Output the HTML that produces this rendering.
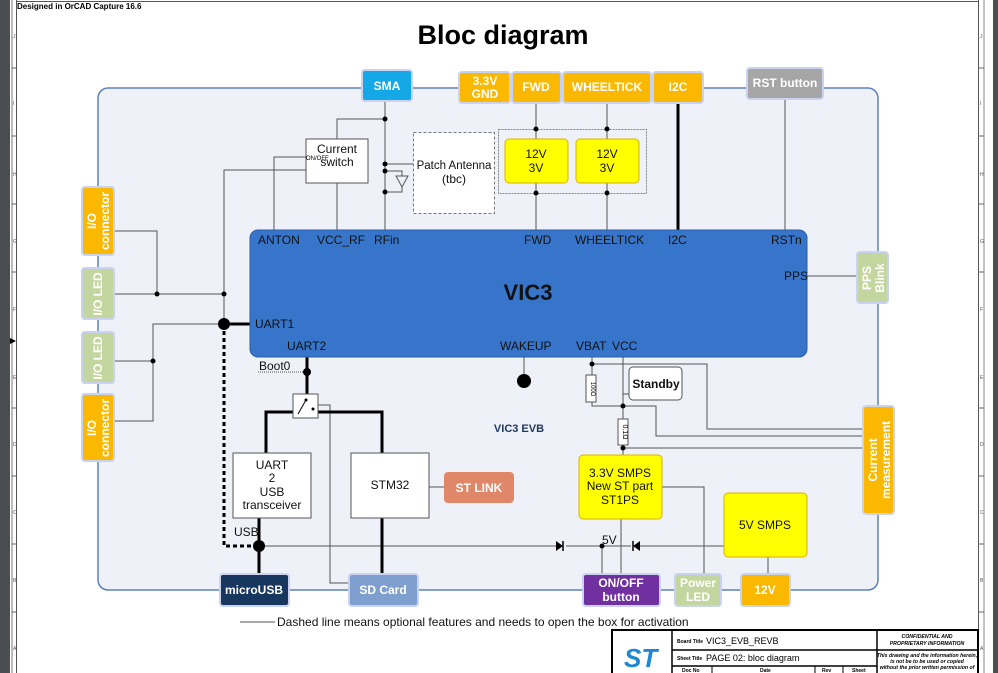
<!DOCTYPE html>
<html><head><meta charset="utf-8"><style>
html,body{margin:0;padding:0;background:#fff;}
svg{display:block;font-family:"Liberation Sans",Arial,sans-serif;}
</style></head><body>
<svg width="998" height="673" viewBox="0 0 998 673" xmlns="http://www.w3.org/2000/svg">
<rect x="0" y="0" width="10" height="673" fill="#4a4d52"/>
<rect x="993" y="0" width="5" height="673" fill="#4a4d52"/>
<line x1="12" y1="0" x2="12" y2="673" stroke="#777" stroke-width="1"/>
<line x1="16.5" y1="0" x2="16.5" y2="673" stroke="#555" stroke-width="1"/>
<line x1="978.5" y1="0" x2="978.5" y2="673" stroke="#555" stroke-width="1"/>
<line x1="984" y1="0" x2="984" y2="673" stroke="#888" stroke-width="1"/>
<line x1="16" y1="1.5" x2="978" y2="1.5" stroke="#555" stroke-width="1"/>
<text x="17" y="9" font-size="8" font-weight="bold">Designed in OrCAD Capture 16.6</text>
<g font-size="5" fill="#555">
<text x="13" y="38">J</text><text x="13" y="105">I</text><text x="13" y="176">H</text><text x="13" y="243">G</text><text x="13" y="311">F</text><text x="13" y="379">E</text><text x="13" y="446">D</text><text x="13" y="514">C</text><text x="13" y="582">B</text><text x="13" y="650">A</text>
<text x="980" y="38">J</text><text x="980" y="105">I</text><text x="980" y="176">H</text><text x="980" y="243">G</text><text x="980" y="311">F</text><text x="980" y="379">E</text><text x="980" y="446">D</text><text x="980" y="514">C</text><text x="980" y="582">B</text><text x="980" y="650">A</text>
</g>
<g stroke="#666" stroke-width="1">
<line x1="12" y1="68" x2="16" y2="68"/><line x1="12" y1="136" x2="16" y2="136"/><line x1="12" y1="204" x2="16" y2="204"/><line x1="12" y1="272" x2="16" y2="272"/><line x1="12" y1="408" x2="16" y2="408"/><line x1="12" y1="476" x2="16" y2="476"/><line x1="12" y1="544" x2="16" y2="544"/><line x1="12" y1="612" x2="16" y2="612"/>
<line x1="978" y1="68" x2="984" y2="68"/><line x1="978" y1="136" x2="984" y2="136"/><line x1="978" y1="204" x2="984" y2="204"/><line x1="978" y1="272" x2="984" y2="272"/><line x1="978" y1="408" x2="984" y2="408"/><line x1="978" y1="476" x2="984" y2="476"/><line x1="978" y1="544" x2="984" y2="544"/><line x1="978" y1="612" x2="984" y2="612"/>
</g>
<polygon points="10,338 16,341 10,344" fill="#000"/>

<text x="503" y="44" font-size="27" font-weight="bold" text-anchor="middle">Bloc diagram</text>

<rect x="98" y="88" width="780" height="502" rx="10" fill="#eef1f8" stroke="#5b82b8" stroke-width="1.5"/>

<g stroke="#555" stroke-width="1" fill="none">
<line x1="385" y1="101" x2="385" y2="230"/>
<polyline points="385,119 337,119 337,139"/>
<line x1="337" y1="183" x2="337" y2="230"/>
<polyline points="306,157 274,157 274,230"/>
<polyline points="306,170 224,170 224,324"/>
<line x1="385" y1="164" x2="413" y2="164"/>
<polyline points="385,171 402,171 402,176"/>
<polyline points="385,192 402,192 402,187"/>
<polygon points="396,176 408,176 402,187"/>
<line x1="536" y1="103" x2="536" y2="230"/>
<line x1="607" y1="103" x2="607" y2="230"/>
<line x1="785" y1="99" x2="785" y2="230"/>
<polyline points="114,231 157,231 157,294"/>
<line x1="114" y1="294" x2="224" y2="294"/>
<polyline points="224,324 153,324 153,421 114,421"/>
<line x1="114" y1="361" x2="153" y2="361"/>
<line x1="807" y1="276" x2="857" y2="276"/>
<polyline points="318,405 330,405 330,583 349,583"/>
<line x1="259" y1="546" x2="556" y2="546"/>
<line x1="566" y1="546" x2="631" y2="546"/>
<line x1="640" y1="546" x2="724" y2="546"/>
<line x1="602" y1="546" x2="602" y2="574"/>
<line x1="621" y1="519" x2="621" y2="574"/>
<polyline points="662,487 704,487 704,574"/>
<line x1="768" y1="557" x2="768" y2="574"/>
<line x1="429" y1="487" x2="444" y2="487"/>
<line x1="524" y1="357" x2="524" y2="380"/>
<polyline points="592,357 592,364 707,364 707,429 863,429"/>
<line x1="592" y1="364" x2="592" y2="375"/>
<polyline points="592,402 592,406 656,406 656,436 863,436"/>
<polyline points="623,357 623,394 629,394"/>
<line x1="623" y1="394" x2="623" y2="419"/>
<line x1="623" y1="445" x2="623" y2="455"/>
<line x1="623" y1="448" x2="863" y2="448"/>
<line x1="240" y1="622" x2="275" y2="622"/>
<line x1="258" y1="372" x2="307" y2="372" stroke-dasharray="1,1"/>
</g>
<rect x="498.5" y="129.5" width="148" height="64" fill="none" stroke="#888" stroke-width="1" stroke-dasharray="2,1"/>
<g stroke="#000" stroke-width="3" fill="none">
<line x1="678" y1="103" x2="678" y2="230"/>
<line x1="224" y1="324" x2="250" y2="324"/>
<line x1="307" y1="357" x2="307" y2="394"/>
<polyline points="266,453 266,412 293,412"/>
<polyline points="318,412 382,412 382,453"/>
<line x1="259" y1="518" x2="259" y2="574"/>
<line x1="382" y1="518" x2="382" y2="574"/>
<polyline points="224,324 224,546 259,546" stroke-dasharray="4,3"/>
</g>
<g fill="#000">
<circle cx="385" cy="119" r="2.5"/><circle cx="385" cy="164" r="2.5"/><circle cx="385" cy="171" r="2.5"/><circle cx="385" cy="192" r="2.5"/>
<circle cx="536" cy="129" r="2.5"/><circle cx="536" cy="193" r="2.5"/><circle cx="607" cy="129" r="2.5"/><circle cx="607" cy="193" r="2.5"/>
<circle cx="157" cy="294" r="2.5"/><circle cx="224" cy="294" r="2.5"/><circle cx="153" cy="361" r="2.5"/>
<circle cx="224" cy="324" r="6"/><circle cx="259" cy="546" r="6"/><circle cx="307" cy="372" r="4"/>
<circle cx="524" cy="381" r="7"/>
<circle cx="592" cy="364" r="2.5"/><circle cx="623" cy="406" r="2.5"/><circle cx="623" cy="448" r="2.5"/><circle cx="602" cy="546" r="2.5"/>
<polygon points="556,541 556,551 563,546"/><line x1="563" y1="541" x2="563" y2="551" stroke="#000" stroke-width="1.5"/>
<polygon points="640,541 640,551 633,546"/><line x1="633" y1="541" x2="633" y2="551" stroke="#000" stroke-width="1.5"/>
</g>

<rect x="250" y="230" width="557" height="127" rx="8" fill="#3675c9" stroke="#2a5ea8"/>
<g font-size="12" fill="#111">
<text x="258" y="244">ANTON</text><text x="317" y="244">VCC_RF</text><text x="374" y="244">RFin</text>
<text x="524" y="244">FWD</text><text x="575" y="244">WHEELTICK</text><text x="668" y="244">I2C</text><text x="771" y="244">RSTn</text>
<text x="784" y="280">PPS</text><text x="255" y="328">UART1</text><text x="287" y="350">UART2</text>
<text x="500" y="350">WAKEUP</text><text x="576" y="350">VBAT</text><text x="612" y="350">VCC</text>
</g>
<text x="528" y="300" font-size="22" font-weight="bold" text-anchor="middle" fill="#111">VIC3</text>

<g fill="#fff" stroke="#555" stroke-width="1">
<rect x="306" y="139" width="62" height="44"/>
<rect x="413.5" y="132.5" width="81" height="81" stroke-dasharray="3,2" stroke="#777"/>
<rect x="233" y="453" width="78" height="65"/>
<rect x="351" y="453" width="78" height="65"/>
<rect x="293" y="394" width="25" height="24"/>
<rect x="629" y="367" width="53" height="33" rx="4"/>
<rect x="586" y="375" width="10" height="27"/>
<rect x="618" y="419" width="10" height="26"/>
</g>
<polyline points="298,414 306,400" stroke="#000" fill="none"/>
<circle cx="306" cy="400" r="1.5"/><circle cx="313" cy="409" r="1.5"/>
<g font-size="12" fill="#111" text-anchor="middle">
<text x="337" y="153">Current</text><text x="337" y="166">switch</text>
<text x="454" y="169" font-size="11.5">Patch Antenna</text><text x="454" y="183">(tbc)</text>
<text x="272" y="469">UART</text><text x="272" y="482">2</text><text x="272" y="496">USB</text><text x="272" y="509">transceiver</text>
<text x="390" y="489">STM32</text>
<text x="656" y="388" font-weight="bold">Standby</text>
<text x="234" y="536" text-anchor="start">USB</text>
<text x="259" y="370" text-anchor="start">Boot0</text>
<text x="602" y="544" text-anchor="start">5V</text>
</g>
<text x="306" y="160" font-size="6">ON/OFF</text>
<text x="591" y="389" font-size="6" transform="rotate(90 591 389)" text-anchor="middle">100Ω</text>
<text x="623" y="432" font-size="7" transform="rotate(90 623 432)" text-anchor="middle">0.1Ω</text>
<text x="519" y="432" font-size="11" font-weight="bold" fill="#1f3864" text-anchor="middle">VIC3 EVB</text>

<g fill="#ffff00" stroke="#d9b200" stroke-width="1">
<rect x="505" y="139" width="63" height="44" rx="4"/>
<rect x="576" y="139" width="63" height="44" rx="4"/>
<rect x="579" y="455" width="83" height="64" rx="4"/>
<rect x="724" y="493" width="83" height="64" rx="4"/>
</g>
<g font-size="12" fill="#111" text-anchor="middle">
<text x="536" y="158">12V</text><text x="536" y="172">3V</text>
<text x="607" y="158">12V</text><text x="607" y="172">3V</text>
<text x="620" y="477">3.3V SMPS</text><text x="620" y="490">New ST part</text><text x="620" y="504">ST1PS</text>
<text x="765" y="529">5V SMPS</text>
</g>

<g stroke="#c9d3f0" stroke-width="2">
<rect x="362" y="70" width="50" height="31" rx="3" fill="#14a8e6"/>
<rect x="459" y="72" width="51" height="31" rx="3" fill="#fbb800"/>
<rect x="512" y="72" width="49" height="31" rx="3" fill="#fbb800"/>
<rect x="563" y="72" width="88" height="31" rx="3" fill="#fbb800"/>
<rect x="653" y="72" width="50" height="31" rx="3" fill="#fbb800"/>
<rect x="747" y="68" width="76" height="31" rx="3" fill="#a6a6a6"/>
<rect x="82" y="187" width="32" height="68" rx="3" fill="#fbb800"/>
<rect x="82" y="268" width="32" height="51" rx="3" fill="#c4d69f"/>
<rect x="82" y="332" width="32" height="51" rx="3" fill="#c4d69f"/>
<rect x="82" y="394" width="32" height="67" rx="3" fill="#fbb800"/>
<rect x="857" y="252" width="31" height="51" rx="3" fill="#c4d69f"/>
<rect x="863" y="406" width="31" height="108" rx="3" fill="#fbb800"/>
<rect x="220" y="574" width="69" height="32" rx="3" fill="#17375e"/>
<rect x="349" y="574" width="69" height="32" rx="3" fill="#7f9fcf"/>
<rect x="583" y="574" width="77" height="32" rx="3" fill="#7030a0"/>
<rect x="675" y="574" width="46" height="32" rx="3" fill="#c4d69f"/>
<rect x="741" y="574" width="49" height="32" rx="3" fill="#fbb800"/>
</g>
<rect x="444" y="472" width="70" height="31" rx="4" fill="#e0876a"/>
<g font-size="12" font-weight="bold" fill="#fff" text-anchor="middle">
<text x="387" y="90">SMA</text>
<text x="485" y="85">3.3V</text><text x="485" y="98">GND</text>
<text x="536" y="91">FWD</text><text x="607" y="91">WHEELTICK</text><text x="678" y="91">I2C</text>
<text x="785" y="87">RST button</text>
<text x="479" y="492">ST LINK</text>
<text x="254" y="594">microUSB</text><text x="383" y="594">SD Card</text>
<text x="621" y="587">ON/OFF</text><text x="621" y="601">button</text>
<text x="698" y="587">Power</text><text x="698" y="601">LED</text>
<text x="765" y="594">12V</text>
<text transform="translate(96 221) rotate(-90)">I/O</text><text transform="translate(109 221) rotate(-90)">connector</text>
<text transform="translate(102 294) rotate(-90)">I/O LED</text>
<text transform="translate(102 358) rotate(-90)">I/O LED</text>
<text transform="translate(96 428) rotate(-90)">I/O</text><text transform="translate(109 428) rotate(-90)">connector</text>
<text transform="translate(871 278) rotate(-90)">PPS</text><text transform="translate(884 278) rotate(-90)">Blink</text>
<text transform="translate(877 460) rotate(-90)">Current</text><text transform="translate(890 460) rotate(-90)">measurement</text>
</g>

<text x="277" y="626" font-size="12" fill="#111">Dashed line means optional features and needs to open the box for activation</text>

<g stroke="#000" fill="none">
<rect x="612" y="630" width="366" height="50" stroke-width="2"/>
<line x1="672" y1="630" x2="672" y2="673" stroke-width="1.5"/>
<line x1="877" y1="630" x2="877" y2="673" stroke-width="1.5"/>
<line x1="672" y1="650" x2="978" y2="650" stroke-width="1.5"/>
<line x1="672" y1="666" x2="877" y2="666" stroke-width="1.5"/>
<line x1="712" y1="666" x2="712" y2="673"/><line x1="815" y1="666" x2="815" y2="673"/><line x1="843" y1="666" x2="843" y2="673"/>
</g>
<text x="624" y="667" font-size="26" font-weight="bold" font-style="italic" fill="#1e88d0">ST</text>
<g font-size="5" font-weight="bold" fill="#000">
<text x="677" y="643">Board Title</text><text x="677" y="660">Sheet Title</text><text x="682" y="672">Doc No</text>
<text x="760" y="672">Date</text><text x="822" y="672">Rev</text><text x="852" y="672">Sheet</text>
</g>
<text x="706" y="644" font-size="9">VIC3_EVB_REVB</text>
<text x="706" y="661" font-size="9">PAGE 02: bloc diagram</text>
<g font-size="5.2" font-style="italic" font-weight="bold" text-anchor="middle">
<text x="927" y="638">CONFIDENTIAL AND</text><text x="927" y="645">PROPRIETARY INFORMATION</text>
<text x="927" y="657">This drawing and the information herein,</text><text x="927" y="663">is not be to be used or copied</text><text x="927" y="669">without the prior written permission of</text>
</g>
</svg>
</body></html>
